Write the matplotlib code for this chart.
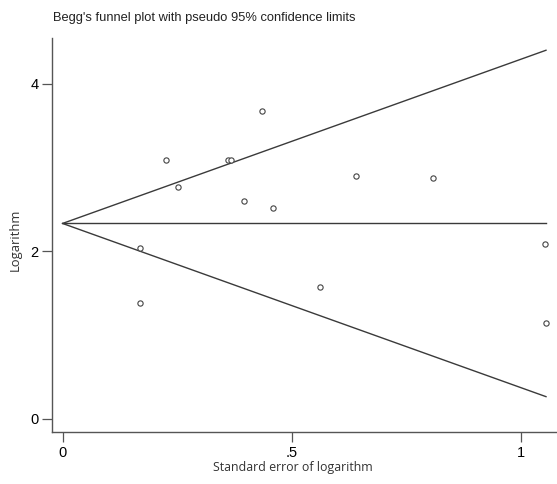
import matplotlib
matplotlib.use("Agg")
import matplotlib.pyplot as plt
import numpy as np

# Data
se = [0.169, 0.169, 0.225, 0.251, 0.360, 0.368, 0.396, 0.434, 0.458, 0.561, 0.641, 0.807, 1.053, 1.055]
logv = [2.04, 1.384, 3.087, 2.77, 3.087, 3.087, 2.60, 3.675, 2.52, 1.575, 2.896, 2.876, 2.08, 1.138]
pooled = 2.33
se_max = 1.0545
xticks = [0, 0.5, 1]
xticklabels = ["0", ".5", "1"]
yticks = [0, 2, 4]
yticklabels = ["0", "2", "4"]

fig = plt.figure(figsize=(5.57, 4.84), dpi=100)
ax = fig.add_axes([52.2/557, 1-432/484, 1-52.2/557, (432-38)/484])

xs = np.array([0, se_max])
lc = "#3a3a3a"
ax.plot(xs, [pooled, pooled], color=lc, lw=1.0)
ax.plot(xs, pooled + 1.96*xs, color=lc, lw=1.0)
ax.plot(xs, pooled - 1.96*xs, color=lc, lw=1.0)
ax.plot(se, logv, linestyle="none", marker="o", markersize=3.8,
        markerfacecolor="white", markeredgecolor="#444444", markeredgewidth=0.8)

ax.set_xlim(-0.0226, (557-62.5)/458.5)
ax.set_ylim(-(432-418.7)/83.8, (418.7-38)/83.8)
ax.set_xticks(xticks)
ax.set_xticklabels(xticklabels, fontfamily="Liberation Sans", fontsize=10.5)
ax.set_yticks(yticks)
ax.set_yticklabels(yticklabels, fontfamily="Liberation Sans", fontsize=10.5)
ax.tick_params(direction="out", length=7, width=0.9, color="#555555", pad=3)
for s in ["top", "right"]:
    ax.spines[s].set_visible(False)
for s in ["left", "bottom"]:
    ax.spines[s].set_color("#555555")
    ax.spines[s].set_linewidth(1.0)

fig.text(53/557, 1-18/484, "Begg's funnel plot with pseudo 95% confidence limits",
         ha="left", va="center", fontfamily="Liberation Sans", fontsize=9.3, color="#222222")
fig.text(293/557, 1-467/484, "Standard error of logarithm", ha="center", va="center",
         fontfamily="Open Sans", fontsize=8.9, color="#333333")
fig.text(15/557, 1-240/484, "Logarithm", ha="center", va="center", rotation=90,
         fontfamily="Open Sans", fontsize=9.4, color="#333333")

fig.savefig("out.png", dpi=100)
